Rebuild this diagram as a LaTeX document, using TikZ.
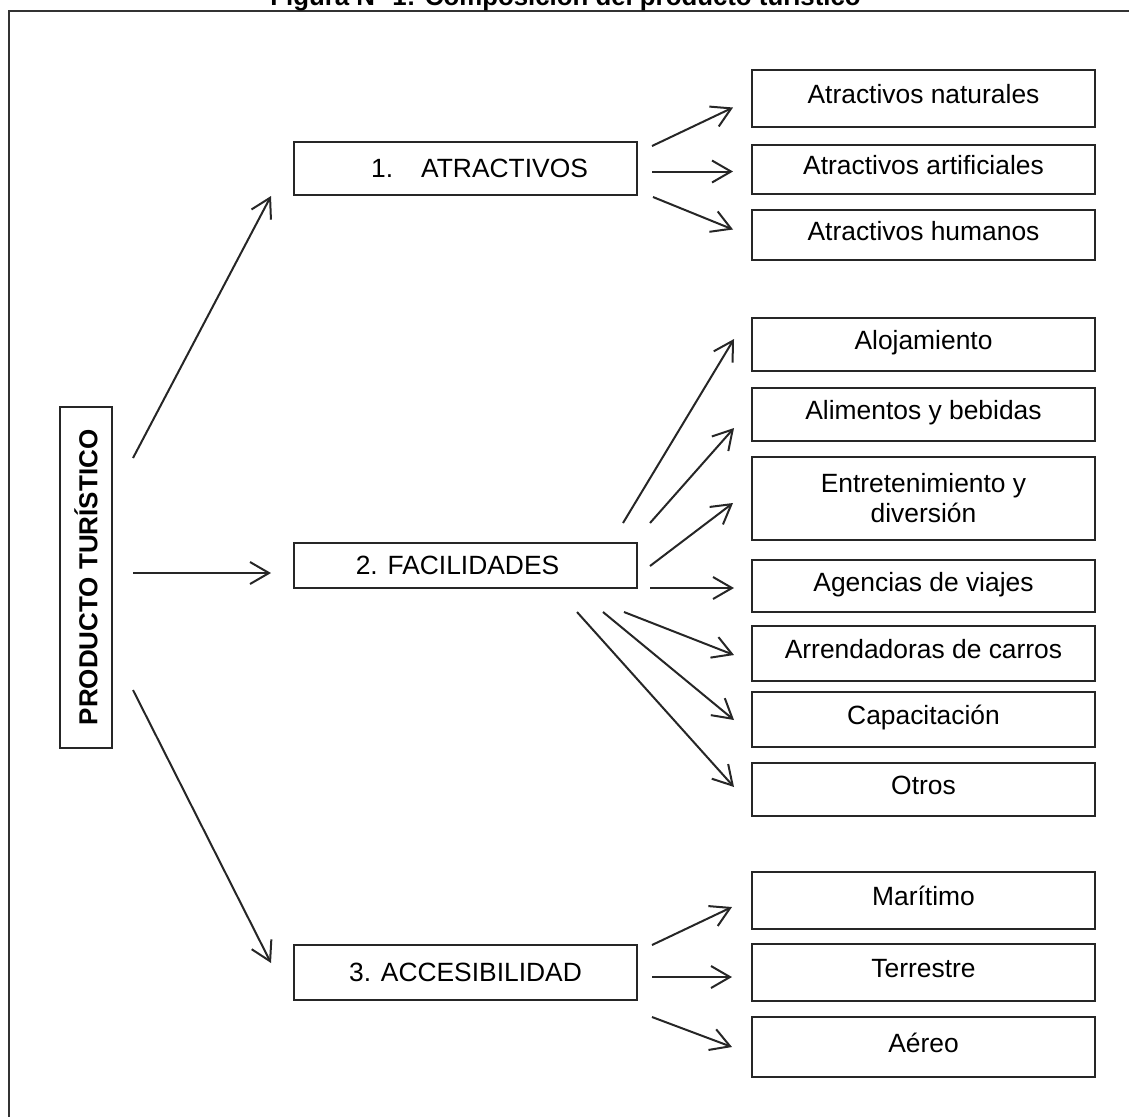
\documentclass[tikz,border=0pt]{standalone}
\usepackage{fontspec}
\setmainfont{Liberation Sans}
\usetikzlibrary{arrows.meta}

\begin{document}
\begin{tikzpicture}[x=0.5pt,y=-0.5pt,
  base/.style={draw=black!85, line width=1pt, minimum width=171.5pt, inner ysep=2pt},
  box/.style={base, text height=10.5pt, text depth=5.5pt},
  midbox/.style={base, text height=10.5pt, text depth=2pt},
  arr/.style={draw=black!85, line width=1pt, -{Straight Barb[length=9.5pt,width=11pt]}}]
              \tikzstyle{every node}+=[font=\fontsize{13.2pt}{15pt}\selectfont]
              \useasboundingbox (0,0) rectangle (1129,1116);
              \draw [black!80, line width=1pt] (9,11) rectangle (1200,1200);
              \node [anchor=base, font=\bfseries\fontsize{12.9pt}{15pt}\selectfont] (title) at (565.5,5) {Figura N° 1: Composición del producto turístico};
              \node [base, rotate=90, minimum width=170.5pt, minimum height=26pt, font=\bfseries\fontsize{13pt}{15pt}\selectfont] (prod) at (86,577.5) {PRODUCTO TURÍSTICO};
              \node [midbox, minimum height=26.5pt] (atr) at (465.5,168.5) {\hspace*{14pt}1.\hspace{14pt}ATRACTIVOS};
              \node [midbox, minimum height=22.5pt] (fac) at (465.5,565.5) {2. FACILIDADES\hspace*{8pt}};
              \node [midbox, minimum height=27.5pt] (acc) at (465.5,972.5) {3. ACCESIBILIDAD};
              \node [box, minimum height=28.5pt] (nat) at (923.5,98.5) {Atractivos naturales};
              \node [box, minimum height=24.5pt] (art) at (923.5,169.5) {Atractivos artificiales};
              \node [box, minimum height=25pt] (hum) at (923.5,235) {Atractivos humanos};
              \node [box, minimum height=26.5pt] (aloj) at (923.5,344.5) {Alojamiento};
              \node [box, minimum height=26.5pt] (alim) at (923.5,414.5) {Alimentos y bebidas};
              \node [base, minimum height=41.5pt, align=center] (ent) at (923.5,498.5) {Entretenimiento y\\diversión};
              \node [box, minimum height=26pt] (age) at (923.5,586) {Agencias de viajes};
              \node [box, minimum height=27.5pt] (arr) at (923.5,653.5) {Arrendadoras de carros};
              \node [box, minimum height=27.5pt] (cap) at (923.5,719.5) {Capacitación};
              \node [box, minimum height=26.5pt] (otr) at (923.5,789.5) {Otros};
              \node [box, minimum height=28.5pt] (mar) at (923.5,900.5) {Marítimo};
              \node [box, minimum height=28.5pt] (ter) at (923.5,972.5) {Terrestre};
              \node [box, minimum height=30pt] (aer) at (923.5,1047) {Aéreo};
              \draw [arr] ([shift={(47,-119.5)}]prod.center) -- ([shift={(-22,0)}]atr.south west);
              \draw [arr] ([shift={(47,-4.5)}]prod.center) -- ([shift={(-22,7.5)}]fac.west);
              \draw [arr] ([shift={(47,112.5)}]prod.center) -- ([shift={(-22,-9.5)}]acc.west);
              \draw [arr] ([shift={(14,-22.5)}]atr.east) -- ([shift={(-18,9)}]nat.west);
              \draw [arr] ([shift={(14,3)}]atr.east) -- ([shift={(-18,2)}]art.west);
              \draw [arr] ([shift={(15,28.5)}]atr.east) -- ([shift={(-18,-5.5)}]hum.west);
              \draw [arr] ([shift={(-15,-42.5)}]fac.east) -- ([shift={(-17,-5.5)}]aloj.west);
              \draw [arr] ([shift={(12,-42.5)}]fac.east) -- ([shift={(-17,13.5)}]alim.west);
              \draw [arr] ([shift={(12,0.5)}]fac.east) -- ([shift={(-18,4.5)}]ent.west);
              \draw [arr] ([shift={(12,22.5)}]fac.east) -- ([shift={(-17,2)}]age.west);
              \draw [arr] ([shift={(-14,46.5)}]fac.east) -- ([shift={(-17,1.5)}]arr.west);
              \draw [arr] ([shift={(-35,46.5)}]fac.east) -- ([shift={(-17,0.5)}]cap.west);
              \draw [arr] ([shift={(-61,46.5)}]fac.east) -- ([shift={(-17,-2.5)}]otr.west);
              \draw [arr] ([shift={(14,-27.5)}]acc.east) -- ([shift={(-19,6.5)}]mar.west);
              \draw [arr] ([shift={(14,4.5)}]acc.east) -- ([shift={(-19,4.5)}]ter.west);
              \draw [arr] ([shift={(14,44.5)}]acc.east) -- ([shift={(-19,0)}]aer.west);
            \end{tikzpicture}
\end{document}
